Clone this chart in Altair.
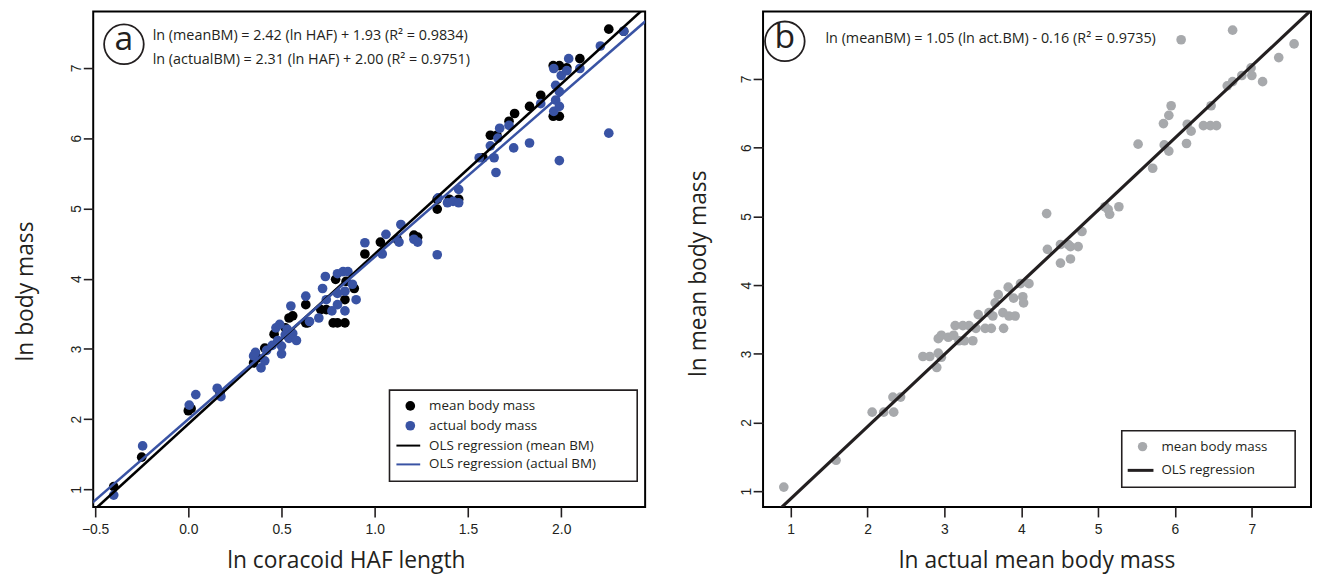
import altair as alt
import pandas as pd

# ---------------- data: panel a ----------------
# black points: ln(mean body mass) vs ln(coracoid HAF length)
mean_haf = [-0.40, -0.25, 0.00, 0.015, 0.17, 0.35, 0.37, 0.41, 0.46, 0.52,
            0.54, 0.56, 0.63, 0.63, 0.64, 0.71, 0.74, 0.777, 0.80, 0.84,
            0.79, 0.846, 0.89, 0.84, 0.947, 1.03, 1.12, 1.21, 1.23, 1.335,
            1.335, 1.40, 1.45, 1.58, 1.62, 1.655, 1.72, 1.75, 1.83, 1.89,
            1.957, 1.99, 1.957, 1.99, 2.03, 2.10, 2.255, 2.335]
mean_bm = [1.04, 1.46, 2.12, 2.15, 2.38, 2.80, 2.87, 3.01, 3.21, 3.30,
           3.44, 3.47, 3.37, 3.63, 3.37, 3.56, 3.56, 3.37, 3.37, 3.37,
           3.99, 3.96, 3.86, 3.70, 4.35, 4.52, 4.56, 4.62, 4.59, 5.13,
           4.99, 5.13, 5.13, 5.72, 6.04, 6.04, 6.24, 6.35, 6.45, 6.61,
           6.31, 6.31, 7.03, 7.03, 7.00, 7.13, 7.55, 7.52]

# blue points: ln(actual body mass) vs ln(coracoid HAF length)
act_haf = [-0.40, -0.245, 0.005, 0.04, 0.155, 0.175, 0.35, 0.36,
           0.39, 0.41, 0.42, 0.45, 0.47, 0.49, 0.50, 0.50, 0.52, 0.54,
           0.55, 0.56, 0.48, 0.53, 0.58, 0.63, 0.65, 0.70, 0.72, 0.735,
           0.74, 0.77, 0.80, 0.84, 0.80, 0.84, 0.80, 0.83, 0.856, 0.88,
           0.90, 0.947, 1.04, 1.06, 1.14, 1.13, 1.21, 1.23, 1.335, 1.34,
           1.39, 1.42, 1.45, 1.45, 1.56, 1.62, 1.64, 1.65, 1.66, 1.67,
           1.72, 1.745, 1.83, 1.89, 1.96, 1.97, 1.99, 1.99, 1.97, 2.00,
           1.96, 2.03, 2.04, 2.10, 1.99, 2.255, 2.21, 2.335]
act_bm = [0.92, 1.62, 2.20, 2.35, 2.44, 2.32, 2.90, 2.95,
          2.73, 2.83, 2.98, 3.05, 3.30, 3.35, 3.04, 2.93, 3.20, 3.15,
          3.61, 3.22, 3.12, 3.28, 3.12, 3.75, 3.39, 3.44, 3.86, 4.03,
          3.70, 3.54, 3.63, 3.54, 3.79, 3.82, 4.07, 4.10, 4.10, 3.92,
          3.70, 4.51, 4.35, 4.63, 4.77, 4.52, 4.56, 4.52, 4.34, 5.15,
          5.08, 5.10, 5.08, 5.27, 5.72, 5.89, 5.72, 5.51, 6.00, 6.14,
          6.18, 5.86, 5.93, 6.49, 6.38, 6.54, 6.45, 6.66, 6.75, 6.89,
          6.99, 6.96, 7.13, 6.99, 5.68, 6.07, 7.31, 7.52]

# OLS regressions printed on panel a
reg_names = ["mean BM", "actual BM"]
reg_slope = [2.42, 2.31]
reg_icpt = [1.93, 2.00]

# ---------------- data: panel b ----------------
b_act = [0.91, 1.59, 2.06, 2.21, 2.34, 2.33, 2.43, 2.72, 2.81, 2.92,
         2.90, 2.96, 2.92, 2.96, 3.05, 3.12, 3.14, 3.24, 3.32, 3.19,
         3.26, 3.37, 3.41, 3.44, 3.53, 3.61, 3.58, 3.63, 3.66, 3.70,
         3.76, 3.77, 3.84, 3.92, 3.83, 3.90, 4.02, 4.03, 3.99, 4.10,
         4.33, 4.34, 4.51, 4.61, 4.64, 4.51, 4.64, 4.74, 4.79, 5.09,
         5.15, 5.13, 5.27, 5.71, 5.52, 5.86, 5.92, 5.85, 5.92, 5.95,
         6.16, 6.21, 6.15, 6.37, 6.46, 6.54, 6.47, 6.68, 6.75, 6.87,
         6.99, 7.00, 7.14, 7.35, 7.55, 6.75, 6.08]
b_mean = [1.06, 1.45, 2.15, 2.15, 2.15, 2.37, 2.37, 2.96, 2.96, 3.01,
          2.80, 2.95, 3.22, 3.27, 3.24, 3.27, 3.41, 3.41, 3.41, 3.19,
          3.19, 3.19, 3.37, 3.57, 3.37, 3.37, 3.60, 3.55, 3.74, 3.86,
          3.60, 3.37, 3.55, 3.55, 3.97, 3.81, 3.83, 3.74, 4.02, 4.02,
          5.04, 4.52, 4.59, 4.59, 4.56, 4.32, 4.38, 4.56, 4.78, 5.14,
          5.03, 5.10, 5.14, 5.70, 6.05, 6.04, 5.95, 6.35, 6.47, 6.61,
          6.34, 6.24, 6.06, 6.32, 6.32, 6.32, 6.61, 6.90, 6.96, 7.05,
          7.16, 7.05, 6.96, 7.31, 7.51, 7.71, 7.57]
b_slope = 1.05
b_icpt = -0.16

xa_ticks = [-0.5, 0.0, 0.5, 1.0, 1.5, 2.0]
ya_ticks = [1, 2, 3, 4, 5, 6, 7]
xb_ticks = [1, 2, 3, 4, 5, 6, 7]
yb_ticks = [1, 2, 3, 4, 5, 6, 7]

# ---------------- style ----------------
INK = "#231F20"
BLUE = "#3953A4"
GREY = "#A7A9AC"
TICK_FONT = "Liberation Sans"
TEXT_FONT = "Open Sans"

WA, HA = 557, 500
WB, HB = 553, 500
XA_DOM = [-0.51, 2.45]
YA_DOM = [0.75, 7.80]
XB_DOM = [0.64, 7.77]
YB_DOM = [0.77, 7.98]


def axis(values, fmt, title_x, title_y, vertical=False):
    kw = dict(values=values, format=fmt, domain=False, grid=False,
              ticks=True, tickColor=INK, tickWidth=1.6, tickSize=10,
              labelFont=TICK_FONT, labelFontSize=14, labelColor=INK,
              titleFont=TEXT_FONT, titleFontSize=23, titleFontWeight="normal",
              titleColor=INK, titleX=title_x, titleY=title_y, titleAlign="center")
    if vertical:
        kw.update(labelAngle=270, labelAlign="center", labelBaseline="alphabetic",
                  labelPadding=3, titleAngle=270, titleBaseline="middle")
    else:
        kw.update(labelPadding=6, titleBaseline="alphabetic")
    return alt.Axis(**kw)


def txt(label, x, y, size, align="left", font=TEXT_FONT):
    return alt.Chart(pd.DataFrame({"t": [label]})).mark_text(
        align=align, baseline="middle", fontSize=size, font=font, color=INK
    ).encode(x=alt.value(x), y=alt.value(y), text="t:N")


def box(x1, x2, y1, y2):
    return alt.Chart(pd.DataFrame({"k": [0]})).mark_rect(
        fill="white", stroke=INK, strokeWidth=1.6
    ).encode(x=alt.value(x1), x2=alt.value(x2), y=alt.value(y1), y2=alt.value(y2))


def dot(x, y, color, size):
    return alt.Chart(pd.DataFrame({"k": [0]})).mark_circle(
        color=color, size=size, opacity=1
    ).encode(x=alt.value(x), y=alt.value(y))


def seg(x1, x2, y, color, w):
    return alt.Chart(pd.DataFrame({"k": [0]})).mark_rule(
        color=color, strokeWidth=w
    ).encode(x=alt.value(x1), x2=alt.value(x2), y=alt.value(y))


def ring(x, y, d):
    return alt.Chart(pd.DataFrame({"k": [0]})).mark_point(
        shape="circle", filled=False, size=d * d, color=INK, strokeWidth=1.8, opacity=1
    ).encode(x=alt.value(x), y=alt.value(y))


# ---------------- panel a ----------------
xa = alt.X("x:Q", scale=alt.Scale(domain=XA_DOM, nice=False, zero=False),
           axis=axis(xa_ticks, ".1f", 255, 61), title="ln coracoid HAF length")
ya = alt.Y("y:Q", scale=alt.Scale(domain=YA_DOM, nice=False, zero=False),
           axis=axis(ya_ticks, "d", -68, 282, vertical=True), title="ln body mass")

df_mean = pd.DataFrame({"x": mean_haf, "y": mean_bm})
df_act = pd.DataFrame({"x": act_haf, "y": act_bm})
line_rows = []
for n, s, c in zip(reg_names, reg_slope, reg_icpt):
    for xv in (XA_DOM[0] - 0.1, XA_DOM[1] + 0.1):
        line_rows.append({"series": n, "x": xv, "y": s * xv + c})
df_lines = pd.DataFrame(line_rows)

pts_mean = alt.Chart(df_mean).mark_circle(color="black", size=95, opacity=1).encode(x=xa, y=ya)
pts_act = alt.Chart(df_act).mark_circle(color=BLUE, size=95, opacity=1).encode(x=xa, y=ya)
line_mean = alt.Chart(df_lines[df_lines.series == "mean BM"]).mark_line(
    color="black", strokeWidth=2.6, clip=True).encode(x=xa, y=ya)
line_act = alt.Chart(df_lines[df_lines.series == "actual BM"]).mark_line(
    color=BLUE, strokeWidth=2.6, clip=True).encode(x=xa, y=ya)

panel_a = alt.layer(
    pts_mean, pts_act, line_mean, line_act,
    ring(31, 33, 40), txt("a", 31, 29, 34, align="center"),
    txt("ln (meanBM) = 2.42 (ln HAF) + 1.93 (R² = 0.9834)", 60, 25, 14.5),
    txt("ln (actualBM) = 2.31 (ln HAF) + 2.00 (R² = 0.9751)", 60, 49, 14.5),
    box(299, 549, 382, 474),
    dot(320, 398, "black", 95), txt("mean body mass", 339, 398, 13.5),
    dot(320, 418, BLUE, 95), txt("actual body mass", 339, 418, 13.5),
    seg(306, 330, 438, "black", 2), txt("OLS regression (mean BM)", 339, 438, 13.5),
    seg(306, 330, 457, BLUE, 2), txt("OLS regression (actual BM)", 339, 457, 13.5),
).properties(width=WA, height=HA)

# ---------------- panel b ----------------
xb = alt.X("x:Q", scale=alt.Scale(domain=XB_DOM, nice=False, zero=False),
           axis=axis(xb_ticks, "d", 276, 61), title="ln actual mean body mass")
yb = alt.Y("y:Q", scale=alt.Scale(domain=YB_DOM, nice=False, zero=False),
           axis=axis(yb_ticks, "d", -65, 264, vertical=True), title="ln mean body mass")

df_b = pd.DataFrame({"x": b_act, "y": b_mean})
df_bline = pd.DataFrame({"x": [XB_DOM[0] - 0.1, XB_DOM[1] + 0.1]})
df_bline["y"] = b_slope * df_bline["x"] + b_icpt

pts_b = alt.Chart(df_b).mark_circle(color=GREY, size=95, opacity=1).encode(x=xb, y=yb)
line_b = alt.Chart(df_bline).mark_line(color=INK, strokeWidth=3.2, clip=True).encode(x=xb, y=yb)

panel_b = alt.layer(
    pts_b, line_b,
    ring(22, 30, 40), txt("b", 22, 27, 34, align="center"),
    txt("ln (meanBM) = 1.05 (ln act.BM) - 0.16 (R² = 0.9735)", 63, 28, 14.5),
    box(362, 537, 423, 480),
    dot(383, 439, GREY, 90), txt("mean body mass", 402, 439, 13.5),
    seg(368, 394, 463, INK, 3), txt("OLS regression", 402, 463, 13.5),
).properties(width=WB, height=HB)

chart = alt.hconcat(panel_a, panel_b, spacing=41).properties(
    padding={"left": 6, "top": 0, "right": 0, "bottom": 0},
    background="white",
).configure_view(stroke="black", strokeWidth=2)

chart.save("out.html", embed_options={"renderer": "svg", "actions": False})
